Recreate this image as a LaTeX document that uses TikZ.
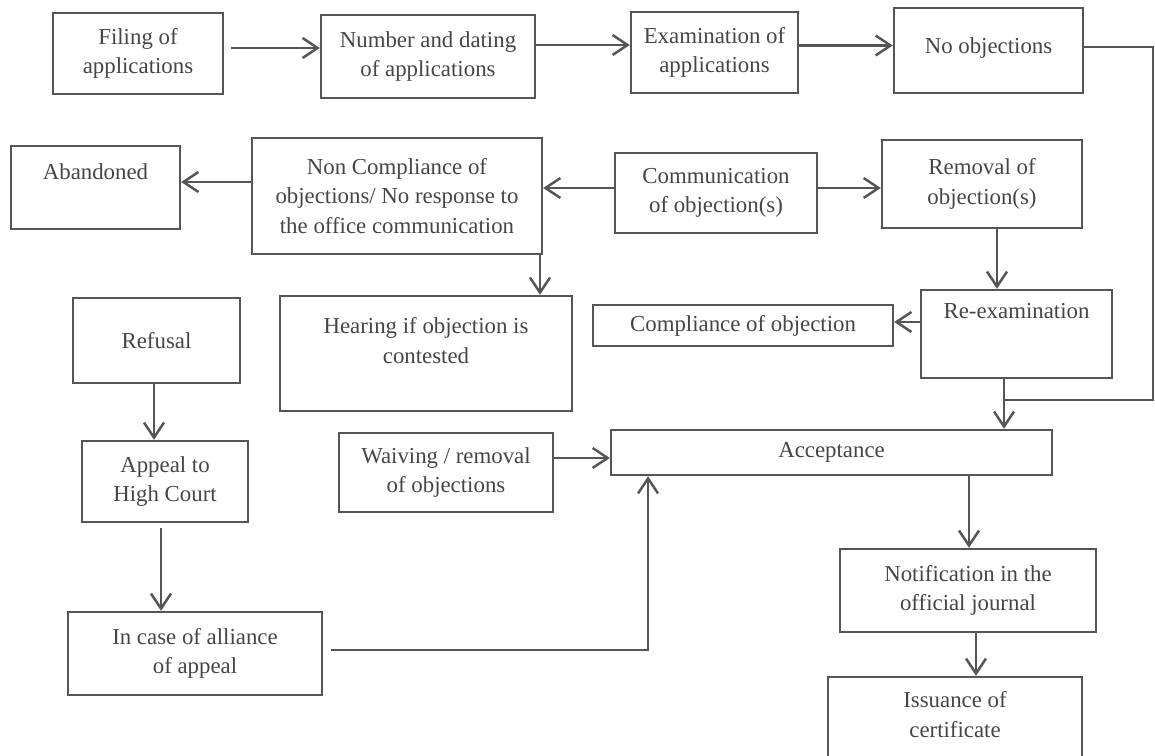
\documentclass[tikz,border=0pt]{standalone}
\usepackage{fontspec}
\setmainfont{Liberation Serif}
\usepackage{xcolor}
\usetikzlibrary{arrows.meta}
\definecolor{ink}{HTML}{555555}
\definecolor{txt}{HTML}{454545}

\begin{document}
\begin{tikzpicture}[x=0.02cm, y=-0.02cm,
    box/.style = {draw=ink, line width=1.4pt, text=txt, align=center, font=\fontsize{13}{16.8}\selectfont},
    lift/.style = {text depth=#1},
    arr/.style = {draw=ink, line width=1.4pt, -{Straight Barb[length=3mm, width=4mm]}},
    link/.style = {draw=ink, line width=1.4pt}]
    \path[use as bounding box] (0,0) rectangle (1155,756);
    \clip (0,0) rectangle (1155,756);

    % 节点定义
    \node[box, minimum width=3.4cm, minimum height=1.62cm] (filing) at (138,53.5) {Filing of\\applications};
    \node[box, minimum width=4.28cm, minimum height=1.66cm] (number) at (428,56.5) {Number and dating\\of applications};
    \node[box, minimum width=3.34cm, minimum height=1.62cm] (exam) at (714.5,52.5) {Examination of\\applications};
    \node[box, lift=0.2cm, minimum width=3.78cm, minimum height=1.7cm] (noobj) at (988.5,50.5) {No objections};
    \node[box, lift=0.64cm, minimum width=3.38cm, minimum height=1.66cm] (aband) at (95.5,187.5) {Abandoned};
    \node[box, minimum width=5.8cm, minimum height=2.32cm] (noncomp) at (397,196) {Non Compliance of\\objections/ No response to\\the office communication};
    \node[box, minimum width=4.04cm, minimum height=1.6cm] (comm) at (716,193) {Communication\\of objection(s)};
    \node[box, minimum width=4cm, minimum height=1.76cm] (removal) at (982,184) {Removal of\\objection(s)};
    \node[box, lift=0.92cm, minimum width=3.82cm, minimum height=1.76cm] (reexam) at (1016.5,334) {Re-examination};
    \node[box, minimum width=6cm, minimum height=0.82cm] (complob) at (743,325.5) {Compliance of objection};
    \node[box, lift=0.52cm, minimum width=5.84cm, minimum height=2.3cm] (hearing) at (426,353.5) {Hearing if objection is\\contested};
    \node[box, minimum width=3.34cm, minimum height=1.7cm] (refusal) at (156.5,340.5) {Refusal};
    \node[box, minimum width=3.32cm, minimum height=1.62cm] (appeal) at (165,481.5) {Appeal to\\High Court};
    \node[box, minimum width=5.08cm, minimum height=1.66cm] (incase) at (195,653.5) {In case of alliance\\of appeal};
    \node[box, minimum width=4.28cm, minimum height=1.58cm] (waiving) at (446,472.5) {Waiving / removal\\of objections};
    \node[box, minimum width=8.82cm, minimum height=0.9cm] (accept) at (831.5,452.5) {Acceptance};
    \node[box, minimum width=5.12cm, minimum height=1.66cm] (notif) at (968,590.5) {Notification in the\\official journal};
    \node[box, lift=0.48cm, minimum width=5.08cm, minimum height=1.98cm] (issue) at (955,726.5) {Issuance of\\certificate};
    \coordinate (merge) at (1004,400);

    % 箭头定义
    \draw[arr, shorten <=1.4mm] ([yshift=1.1mm]filing.east) -- ([yshift=1.1mm]filing.east -| number.west);
    \draw[arr] ([yshift=2.3mm]number.east) -- ([yshift=2.3mm]number.east -| exam.west);
    \draw[arr] ([yshift=1.4mm]exam.east) -- ([yshift=1.4mm]exam.east -| noobj.west);
    \draw[link] ([yshift=0.7mm]noobj.east) -- ++(69,0) |- (merge);
    \draw[arr] ([yshift=1mm]comm.west) -- ([yshift=1mm]comm.west -| noncomp.east);
    \draw[arr] ([yshift=1mm]comm.east) -- ([yshift=1mm]comm.east -| removal.west);
    \draw[arr] ([yshift=2.8mm]noncomp.west) -- ([yshift=2.8mm]noncomp.west -| aband.east);
    \draw[arr] ([xshift=2.86cm]noncomp.south) -- ([xshift=2.86cm]noncomp.south |- hearing.north);
    \draw[arr] ([xshift=3mm]removal.south) -- ([xshift=3mm]removal.south |- reexam.north);
    \draw[arr] ([yshift=2.4mm]reexam.west) -- ([yshift=2.4mm]reexam.west -| complob.east);
    \draw[arr] ([xshift=-2.5mm]reexam.south) -- ([xshift=-2.5mm]reexam.south |- accept.north);
    \draw[arr] ([xshift=-0.5mm]refusal.south) -- ([xshift=-0.5mm]refusal.south |- appeal.north);
    \draw[arr, shorten <=1mm] ([xshift=-0.8mm]appeal.south) -- ([xshift=-0.8mm]appeal.south |- incase.north);
    \draw[arr, shorten <=1.6mm] ([yshift=0.7mm]incase.east) -| ([xshift=-3.67cm]accept.south);
    \draw[arr] ([yshift=2.9mm]waiving.east) -- ([yshift=2.9mm]waiving.east -| accept.west);
    \draw[arr] ([xshift=2.75cm]accept.south) -- ([xshift=2.75cm]accept.south |- notif.north);
    \draw[arr] ([xshift=1.6mm]notif.south) -- ([xshift=1.6mm]notif.south |- issue.north);
\end{tikzpicture}
\end{document}
